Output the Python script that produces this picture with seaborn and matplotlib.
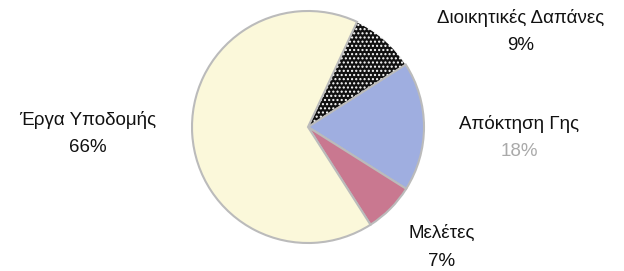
import matplotlib
matplotlib.use("Agg")
import matplotlib.pyplot as plt
import seaborn as sns

sns.set_theme(style="white")
plt.rcParams['font.family'] = ['Liberation Sans', 'DejaVu Sans']

categories = ["Διοικητικές Δαπάνες", "Απόκτηση Γης", "Μελέτες", "Έργα Υποδομής"]
values = [9, 18, 7, 66]
pct_labels = ["9%", "18%", "7%", "66%"]

colors = ["#111111", "#9FAEE0", "#C97890", "#FBF8DA"]

fig = plt.figure(figsize=(6.24, 2.71), dpi=100)
ax = fig.add_axes([0, 0, 1, 1])

wedges, _ = ax.pie(values, colors=colors, startangle=65, counterclock=False,
                   center=(308, 144), radius=116, frame=True,
                   wedgeprops=dict(linewidth=1.5, edgecolor="#BBBBBB"))
wedges[0].set_hatch('....')
wedges[0].set_edgecolor('white')
wedges[0].set_linewidth(0.8)
ax.set_xlim(0, 624)
ax.set_ylim(0, 271)
ax.set_aspect('equal')
ax.axis('off')

label_pos = [(521, 253), (519, 147), (442, 38), (88, 151)]
pct_colors = ["#111111", "#AAAAAA", "#111111", "#111111"]
for (x, y), name, pct, pc in zip(label_pos, categories, pct_labels, pct_colors):
    ax.text(x, y, name, ha='center', va='center', fontsize=13.5, color="#111111")
    ax.text(x, y - 28, pct, ha='center', va='center', fontsize=13.5, color=pc)

fig.savefig("out.png", dpi=100)
